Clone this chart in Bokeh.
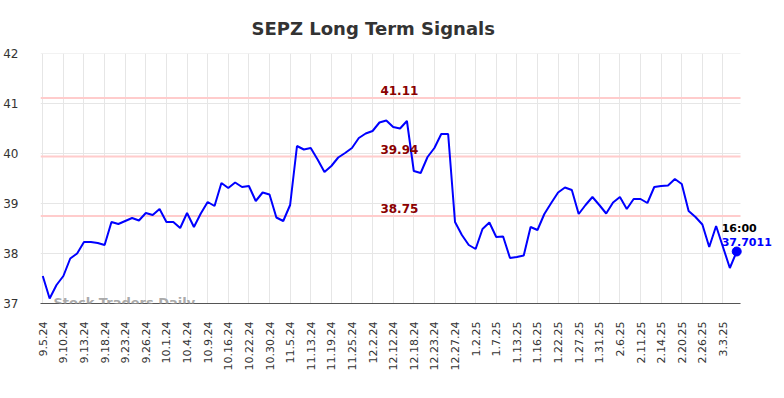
from bokeh.plotting import figure
from bokeh.models import Range1d, FixedTicker, Label, ColumnDataSource
from bokeh.embed import file_html
from bokeh.resources import INLINE

# ---- data ----
values = [
    37.55, 37.10, 37.37, 37.55, 37.90, 38.00, 38.23, 38.23, 38.21, 38.17,
    38.63, 38.59, 38.65, 38.71, 38.66, 38.81, 38.77, 38.89, 38.63, 38.63,
    38.51, 38.81, 38.53, 38.80, 39.03, 38.95, 39.41, 39.31, 39.42, 39.33,
    39.35, 39.05, 39.22, 39.18, 38.72, 38.65, 38.97, 40.15, 40.08, 40.11,
    39.88, 39.63, 39.75, 39.92, 40.01, 40.11, 40.31, 40.40, 40.45, 40.62,
    40.66, 40.53, 40.50, 40.65, 39.65, 39.61, 39.93, 40.11, 40.39, 40.39,
    38.63, 38.37, 38.17, 38.09, 38.49, 38.62, 38.33, 38.34, 37.91, 37.93,
    37.96, 38.53, 38.47, 38.79, 39.01, 39.22, 39.32, 39.27, 38.79, 38.97,
    39.13, 38.97, 38.80, 39.02, 39.13, 38.89, 39.09, 39.09, 39.01, 39.33,
    39.35, 39.36, 39.49, 39.39, 38.85, 38.73, 38.58, 38.13, 38.55, 38.13,
    37.71, 38.04,
]
tick_labels = [
    "9.5.24", "9.10.24", "9.13.24", "9.18.24", "9.23.24", "9.26.24", "10.1.24",
    "10.4.24", "10.9.24", "10.16.24", "10.22.24", "10.30.24", "11.5.24",
    "11.13.24", "11.19.24", "11.25.24", "12.2.24", "12.12.24", "12.18.24",
    "12.23.24", "12.27.24", "1.2.25", "1.7.25", "1.13.25", "1.16.25", "1.22.25",
    "1.27.25", "1.31.25", "2.6.25", "2.11.25", "2.14.25", "2.20.25", "2.26.25",
    "3.3.25",
]
tick_step = 3
signal_levels = [41.11, 39.94, 38.75]
signal_labels = ["41.11", "39.94", "38.75"]
last_time = "16:00"
last_price = "37.7011"
y_ticks = [37, 38, 39, 40, 41, 42]

FONT = "DejaVu Sans"
xs = list(range(len(values)))
tick_pos = [i * tick_step for i in range(len(tick_labels))]

# visible chart area in index units (the frame is wider so the last-price
# text on the right is not clipped)
X_LO, X_HI = -0.33, 101.55
PX_PER_UNIT = 700 / (X_HI - X_LO)
FRAME_W = 740
x_end = X_LO + FRAME_W / PX_PER_UNIT

p = figure(width=784, height=398, output_backend="svg", toolbar_location=None,
           x_range=Range1d(X_LO, x_end), y_range=Range1d(37, 42),
           min_border_left=40, min_border_right=4, min_border_top=53,
           min_border_bottom=95)
p.outline_line_color = None
p.background_fill_color = "white"
p.border_fill_color = "white"

p.title.text = "SEPZ Long Term Signals"
p.title.align = "left"
p.title.offset = 211
p.title.standoff = 30
p.title.text_font = FONT
p.title.text_font_size = "18px"
p.title.text_font_style = "bold"
p.title.text_color = "#333333"

# axes
p.xaxis.ticker = FixedTicker(ticks=tick_pos)
p.xaxis.bounds = (X_LO, X_HI)
p.xaxis.major_label_overrides = {t: l for t, l in zip(tick_pos, tick_labels)}
p.xaxis.major_label_orientation = 1.5708
p.xaxis.major_label_text_font = FONT
p.xaxis.major_label_text_font_size = "11px"
p.xaxis.major_label_text_color = "#333333"
p.xaxis.major_label_standoff = 12
p.xaxis.major_tick_line_color = None
p.xaxis.minor_tick_line_color = None
p.xaxis.axis_line_color = "#555555"
p.xaxis.axis_line_width = 1

p.yaxis.ticker = FixedTicker(ticks=y_ticks)
p.yaxis.major_label_text_font = FONT
p.yaxis.major_label_text_font_size = "12px"
p.yaxis.major_label_text_color = "#333333"
p.yaxis.major_label_standoff = 16
p.yaxis.major_tick_line_color = None
p.yaxis.minor_tick_line_color = None
p.yaxis.axis_line_color = None

p.xgrid.grid_line_color = "#e6e6e6"
p.xgrid.grid_line_width = 1
p.ygrid.visible = False

# horizontal grid lines, limited to the chart area
p.segment(x0=[X_LO] * len(y_ticks), y0=y_ticks,
          x1=[X_HI] * len(y_ticks), y1=y_ticks,
          line_color="#e6e6e6", line_width=1, level="underlay")

# signal lines
p.segment(x0=[X_LO] * len(signal_levels), y0=signal_levels,
          x1=[X_HI] * len(signal_levels), y1=signal_levels,
          line_color="#ffcccc", line_width=2)
for lvl, lab in zip(signal_levels, signal_labels):
    p.add_layout(Label(x=51.9, y=lvl, text=lab, text_align="center",
                       text_baseline="bottom", y_offset=3, text_font=FONT,
                       text_font_size="12px", text_font_style="bold",
                       text_color="#8b0000"))

src = ColumnDataSource(dict(x=xs, y=values))
p.line("x", "y", source=src, line_color="#0000ff", line_width=2)
p.scatter([xs[-1]], [values[-1]], size=9, color="#0000ff")

p.add_layout(Label(x=xs[-1], y=values[-1], text=last_time, x_offset=-15,
                   y_offset=23, text_baseline="middle", text_font=FONT,
                   text_font_size="11px", text_font_style="bold",
                   text_color="black"))
p.add_layout(Label(x=xs[-1], y=values[-1], text=last_price, x_offset=-15,
                   y_offset=10, text_baseline="middle", text_font=FONT,
                   text_font_size="11px", text_font_style="bold",
                   text_color="#0000ff"))

p.add_layout(Label(x=1.56, y=37.02, text="Stock Traders Daily",
                   text_baseline="middle", text_font=FONT,
                   text_font_size="13px", text_font_style="bold",
                   text_color="#aaaaaa"))

open("out.html", "w").write(file_html(p, INLINE))
